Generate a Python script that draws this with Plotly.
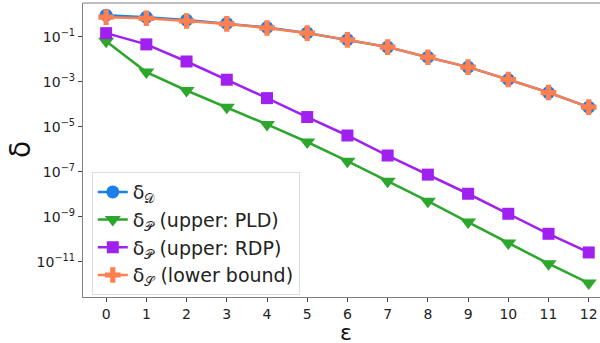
import plotly.graph_objects as go

eps = list(range(13))
delta_D = [10**v for v in [-0.03, -0.12, -0.25, -0.40, -0.58, -0.82, -1.12, -1.45, -1.9, -2.34, -2.89, -3.47, -4.12]]
delta_P_pld = [10**v for v in [-1.19, -2.56, -3.38, -4.12, -4.89, -5.67, -6.52, -7.41, -8.30, -9.23, -10.16, -11.08, -11.94]]
delta_P_rdp = [10**v for v in [-0.83, -1.33, -2.09, -2.90, -3.72, -4.56, -5.38, -6.27, -7.12, -7.97, -8.86, -9.75, -10.58]]
delta_S = [10**v for v in [-0.12, -0.17, -0.29, -0.42, -0.60, -0.83, -1.13, -1.45, -1.9, -2.34, -2.89, -3.47, -4.12]]

ytick_vals = [1e-1, 1e-3, 1e-5, 1e-7, 1e-9, 1e-11]
ytick_text = ["10<sup>−1</sup>", "10<sup>−3</sup>", "10<sup>−5</sup>", "10<sup>−7</sup>", "10<sup>−9</sup>", "10<sup>−11</sup>"]

BLUE = "#1a80e8"
GREEN = "#2ca62c"
PURPLE = "#a020f0"
ORANGE = "#ff7f50"

fig = go.Figure()
fig.add_trace(go.Scatter(x=eps, y=delta_D, mode="lines+markers", name="δ<sub>𝒟</sub>",
                         line=dict(color=BLUE, width=2.5), marker=dict(symbol="circle", size=13, color=BLUE)))
fig.add_trace(go.Scatter(x=eps, y=delta_P_pld, mode="lines+markers", name="δ<sub>𝒫</sub> (upper: PLD)",
                         line=dict(color=GREEN, width=2.5), marker=dict(symbol="triangle-down", size=14, color=GREEN)))
fig.add_trace(go.Scatter(x=eps, y=delta_P_rdp, mode="lines+markers", name="δ<sub>𝒫</sub> (upper: RDP)",
                         line=dict(color=PURPLE, width=2.5), marker=dict(symbol="square", size=12, color=PURPLE)))
fig.add_trace(go.Scatter(x=eps, y=delta_S, mode="lines+markers", name="δ<sub>𝒮</sub> (lower bound)",
                         line=dict(color=ORANGE, width=2.5), marker=dict(symbol="cross", size=13, color=ORANGE)))

fig.update_layout(
    width=600, height=343,
    margin=dict(l=83, r=0, t=3, b=46),
    paper_bgcolor="white", plot_bgcolor="white",
    font=dict(family="DejaVu Sans", color="#222222", size=14),
    showlegend=True,
    legend=dict(x=0.017, y=0.425, xanchor="left", yanchor="top",
                bgcolor="white", bordercolor="#dddddd", borderwidth=1,
                font=dict(size=19), tracegroupgap=0),
    shapes=[dict(type="line", xref="paper", yref="paper", x0=0, x1=1, y0=1, y1=1,
                 line=dict(color="#808080", width=1.2))],
    annotations=[
        dict(text="ε", xref="paper", yref="paper", x=(346 - 83) / 517, y=-(332 - 297) / 294,
             xanchor="center", yanchor="middle", showarrow=False, font=dict(size=22, color="#111111")),
        dict(text="δ", xref="paper", yref="paper", x=-(83 - 20) / 517, y=(297 - 150) / 294,
             xanchor="center", yanchor="middle", showarrow=False, textangle=-90,
             font=dict(size=28, color="#111111")),
    ],
)
fig.update_xaxes(range=[-0.575, 12.28], tickvals=eps, ticks="outside", ticklen=4,
                 tickcolor="#444444", showline=True, linecolor="#808080", linewidth=1.2,
                 showgrid=False, zeroline=False, tickfont=dict(size=14), automargin=False)
fig.update_yaxes(type="log", range=[-12.56, 0.51], tickvals=ytick_vals, ticktext=ytick_text,
                 ticks="outside", ticklen=4, tickcolor="#444444", showline=True,
                 linecolor="#808080", linewidth=1.2, showgrid=False, zeroline=False,
                 tickfont=dict(size=14), automargin=False)

fig.write_html("out.html", config={"displayModeBar": False},
               post_script="document.body.style.margin='0';document.body.style.overflow='hidden';")
